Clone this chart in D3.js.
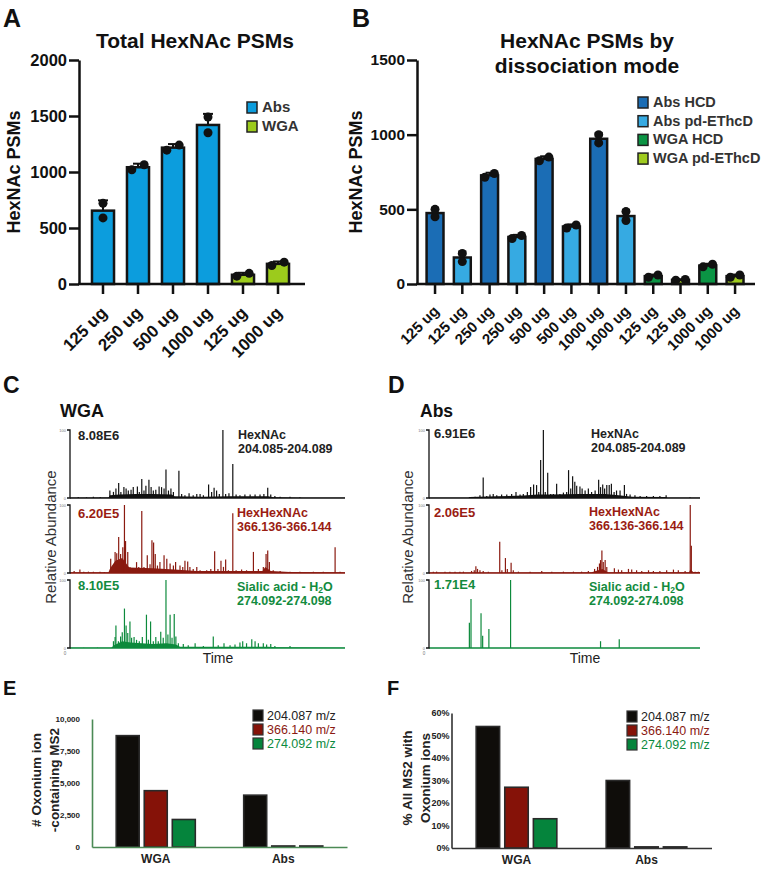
<!DOCTYPE html>
<html>
<head>
<meta charset="utf-8">
<script src="https://cdn.jsdelivr.net/npm/d3@7"></script>
<style>
body { margin: 0; background: #fff; }
text { font-family: "Liberation Sans", Arial, Helvetica, sans-serif; }
</style>
</head>
<body>
<div id="fig"></div>
<script>
const FONT = '"Liberation Sans", Arial, Helvetica, sans-serif';

// ---------- data: panel A ----------
const A_LABELS = ["125 ug", "250 ug", "500 ug", "1000 ug", "125 ug", "1000 ug"];
const A_SERIES = ["Abs", "Abs", "Abs", "Abs", "WGA", "WGA"];
const A_REPS = [[590, 720], [1020, 1065], [1195, 1240], [1350, 1490], [70, 95], [165, 195]];
const A_TICKS = [0, 500, 1000, 1500, 2000];
const A_LEGEND = ["Abs", "WGA"];

// ---------- data: panel B ----------
const B_LABELS = ["125 ug", "125 ug", "250 ug", "250 ug", "500 ug", "500 ug",
  "1000 ug", "1000 ug", "125 ug", "125 ug", "1000 ug", "1000 ug"];
const B_SERIES = ["Abs HCD", "Abs pd-EThcD", "Abs HCD", "Abs pd-EThcD", "Abs HCD", "Abs pd-EThcD",
  "Abs HCD", "Abs pd-EThcD", "WGA HCD", "WGA pd-EThcD", "WGA HCD", "WGA pd-EThcD"];
const B_REPS = [[450, 500], [150, 205], [715, 740], [305, 325], [825, 850], [375, 395],
  [945, 1000], [425, 485], [45, 60], [25, 30], [115, 132], [45, 60]];
const B_TICKS = [0, 500, 1000, 1500];
const B_LEGEND = ["Abs HCD", "Abs pd-EThcD", "WGA HCD", "WGA pd-EThcD"];

// ---------- data: panels C / D (retention time 0-100, relative abundance %) ----------
const C_HEXNAC = [[3, 1.5], [6, 1], [8.5, 2], [11, 1.5], [14.5, 11], [15.8, 9], [16.7, 14], [17.7, 22], [18.5, 9],
  [19.6, 16], [20.4, 14], [21.2, 11], [22.2, 12], [23.0, 16], [24.5, 17], [25.2, 9], [26.1, 28], [26.9, 11],
  [27.6, 18], [28.7, 27], [29.5, 16], [30.3, 11], [31.2, 12], [32.4, 17], [33.3, 16], [34.2, 14], [34.9, 42],
  [35.8, 11], [36.7, 14], [37.6, 9], [39.6, 40], [40.6, 6], [41.8, 4], [43.3, 7], [44.8, 4], [46.1, 6], [47.3, 6],
  [48.5, 4], [50.4, 20], [51.5, 9], [52.4, 15], [53.3, 11], [54.3, 6], [55.6, 100], [56.6, 6], [57.8, 7],
  [59.2, 50], [60.4, 5], [61.8, 4], [63.6, 5], [65.5, 5], [67.3, 5], [69.1, 5], [70.5, 6], [71.9, 15], [73.0, 5],
  [74.5, 3], [76.4, 2], [80.0, 2], [83.6, 1]];
const C_HEXNAC_BG = [[0, 0.5], [14, 0.8], [14.5, 4], [18, 5], [24, 6], [30, 6], [37, 5], [38, 2.5], [48, 2],
  [58, 2.5], [66, 2.5], [72, 2.5], [74, 1], [85, 0.5], [100, 0.3]];

const C_HEXHEX = [[1.5, 3], [3.6, 5], [5, 2], [6.7, 2], [8.5, 2], [10.9, 2], [12.5, 1.5], [14.8, 21], [16.4, 31],
  [17.0, 29], [17.7, 53], [18.4, 28], [19.2, 38], [19.8, 100], [20.2, 47], [21.0, 31], [21.8, 9], [23.0, 6],
  [24.2, 16], [25.0, 9], [26.1, 91], [26.9, 9], [28.1, 26], [29.1, 13], [29.8, 48], [30.4, 45], [31.0, 28],
  [31.8, 11], [32.7, 16], [34.2, 26], [35.2, 21], [36.4, 14], [37.6, 11], [38.4, 16], [40.0, 11], [41.0, 9],
  [41.8, 18], [42.8, 17], [43.6, 9], [44.8, 6], [46.1, 9], [47.3, 4], [49.7, 4], [51.2, 6], [52.6, 32],
  [53.8, 6], [54.9, 18], [55.8, 9], [56.6, 20], [57.6, 4], [59.2, 88], [60.4, 4], [62.4, 5], [64.2, 4],
  [66.7, 31], [68.5, 6], [70.3, 9], [71.3, 28], [71.9, 33], [72.5, 16], [73.9, 4], [76.4, 3], [80.0, 2],
  [83.6, 2], [88.5, 2], [92.1, 2], [96.4, 38], [98.2, 2]];
const C_HEXHEX_BG = [[0, 1], [14, 1.2], [14.6, 7], [16.5, 18], [19, 22], [21.5, 8], [30, 7], [38, 5], [46, 3],
  [58, 3], [70, 3], [71, 9], [73, 3], [80, 1.5], [100, 1]];

const C_SIALIC = [[5, 0.5], [10, 0.5], [15.8, 10], [16.4, 16], [16.7, 33], [17.6, 10], [18.4, 17], [19.0, 23],
  [19.8, 58], [20.4, 33], [21.0, 22], [21.8, 39], [22.4, 15], [23.3, 16], [24.2, 12], [25.2, 10], [26.3, 16],
  [27.8, 49], [28.5, 12], [29.3, 39], [30.3, 10], [31.2, 16], [32.1, 10], [33.0, 24], [33.9, 15], [34.9, 100],
  [35.6, 20], [36.4, 49], [37.1, 15], [37.9, 50], [38.5, 17], [39.4, 7], [41.2, 6], [43.0, 4], [45.5, 7],
  [48.5, 3], [52.1, 17], [53.9, 4], [56.0, 7], [58.2, 4], [60.0, 5], [61.8, 8], [62.8, 10], [64.2, 7],
  [66.1, 13], [67.3, 10], [68.5, 7], [70.3, 7], [71.5, 5], [73.0, 6], [74.5, 3], [80.0, 3]];
const C_SIALIC_BG = [[0, 0.3], [15, 0.5], [16, 4], [19, 10], [22, 8], [30, 6], [35, 7], [38.5, 5], [40, 2],
  [60, 2], [72, 2], [75, 1], [100, 0.3]];

const D_HEXNAC = [[15.1, 1.5], [17.0, 2], [18.8, 4], [20.0, 30], [21.3, 3], [22.5, 5], [23.7, 6], [25.0, 4],
  [26.8, 5], [28.7, 5], [30.5, 6], [32.1, 9], [33.6, 5], [34.8, 6], [36.3, 9], [37.5, 16], [38.6, 20],
  [39.7, 19], [40.5, 9], [41.2, 56], [42.2, 100], [42.9, 9], [43.8, 37], [44.9, 6], [45.9, 6], [47.1, 21],
  [48.3, 6], [49.6, 8], [50.8, 9], [51.5, 41], [52.3, 14], [53.0, 32], [53.8, 24], [54.5, 18], [55.7, 17],
  [56.5, 14], [57.6, 11], [58.8, 14], [60.0, 9], [61.3, 11], [62.6, 27], [63.3, 16], [64.1, 20], [64.8, 14],
  [65.6, 19], [66.5, 19], [67.3, 21], [68.3, 9], [69.2, 11], [70.5, 11], [72.1, 19], [72.9, 6], [74.2, 5],
  [76.0, 4], [77.9, 3], [80.3, 3], [82.8, 3], [85.2, 3], [87.5, 4], [96.3, 1]];
const D_HEXNAC_BG = [[0, 0.2], [14.5, 0.3], [15, 1.5], [25, 2.5], [35, 3.5], [40, 5], [45, 5], [55, 6], [65, 6],
  [70, 4], [75, 2], [87.5, 1.5], [88, 0.3], [100, 0.3]];

const D_HEXHEX = [[1.6, 2], [2.8, 2], [5.9, 2], [7.7, 2], [9.6, 2], [11.4, 2], [12.7, 2], [15.7, 3], [16.7, 4],
  [17.3, 10], [17.9, 6], [18.8, 4], [20.0, 3], [21.9, 2], [26.1, 46], [26.9, 4], [28.2, 22], [28.9, 6],
  [30.3, 15], [31.1, 4], [33.0, 2], [37.3, 2], [41.6, 3], [45.3, 2], [49.6, 2], [53.3, 2], [56.3, 2], [58.8, 3],
  [61.1, 6], [62.2, 9], [62.9, 14], [63.3, 19], [63.8, 33], [64.3, 16], [65.0, 19], [65.6, 9], [68.4, 7],
  [69.9, 5], [71.1, 4], [73.6, 6], [74.8, 5], [76.6, 4], [78.5, 3], [81.0, 4], [82.8, 3], [85.2, 3], [87.7, 4],
  [90.2, 5], [92.0, 4], [94.5, 3], [96.4, 100], [96.8, 40], [98.2, 2], [99.4, 2]];
const D_HEXHEX_BG = [[0, 0.8], [60, 1], [61.5, 3], [64, 6], [66, 1], [96, 1], [96.4, 5], [97.5, 1.5], [100, 1.5]];

const D_SIALIC = [[14.9, 37], [15.5, 72], [19.2, 51], [19.8, 18], [22.1, 28], [30.1, 100], [63.3, 10], [70.2, 13]];
const D_SIALIC_BG = [];

const C_MAX = ["8.08E6", "6.20E5", "8.10E5"];
const D_MAX = ["6.91E6", "2.06E5", "1.71E4"];
const ION_NAMES = [["HexNAc", "204.085-204.089"], ["HexHexNAc", "366.136-366.144"], ["Sialic acid - H2O", "274.092-274.098"]];

// ---------- data: panels E / F ----------
const EF_GROUPS = ["WGA", "Abs"];
const EF_KEYS = ["204.087 m/z", "366.140 m/z", "274.092 m/z"];
const E_204 = [8700, 4050];
const E_366 = [4400, 80];
const E_274 = [2150, 80];
const E_TICKS = [0, 2500, 5000, 7500, 10000];
const F_204 = [54, 30];
const F_366 = [27, 0.5];
const F_274 = [13, 0.5];
const F_TICKS = [0, 10, 20, 30, 40, 50, 60];

// ---------- styles ----------
const A_COLORS = { "Abs": "#0c9ddd", "WGA": "#9ccb1c" };
const B_COLORS = { "Abs HCD": "#1b6db5", "Abs pd-EThcD": "#36aae2", "WGA HCD": "#0b9444", "WGA pd-EThcD": "#9fcb1f" };
const TRACE_COLORS = ["#111111", "#8a1a10", "#0d8a3c"];
const LABEL_COLORS = ["#222222", "#9a1c12", "#138b3e"];
const EF_FILL = { "204.087 m/z": "#0f0d0a", "366.140 m/z": "#851208", "274.092 m/z": "#05843c" };
const EF_TEXT = { "204.087 m/z": "#222222", "366.140 m/z": "#8b1a12", "274.092 m/z": "#0b8a3e" };

const svg = d3.select("#fig").append("svg")
  .attr("width", 762)
  .attr("height", 870);

// panel letters
[["A", 3, 27, 25], ["B", 352, 27, 25], ["C", 3, 393, 23], ["D", 388, 393, 23], ["E", 3, 695, 20], ["F", 387, 695, 20]]
  .forEach(([t, x, y, s]) => {
    svg.append("text").attr("x", x).attr("y", y)
      .style("font", `bold ${s}px ${FONT}`).attr("fill", "#111").text(t);
  });

// ---------- replicate bar chart (A, B) ----------
const replicateChart = (c) => {
  const g = svg.append("g");
  const x = d3.scaleBand().domain(d3.range(c.labels.length))
    .range(c.xRange).paddingInner(c.pad).paddingOuter(c.pad / 2);
  const y = d3.scaleLinear().domain([0, d3.max(c.ticks)]).range(c.yRange);
  const bw = x.bandwidth();

  const rows = c.reps.map((r, i) => ({
    i: i, s: c.series[i], reps: r.slice().sort(d3.ascending),
    mean: d3.mean(r), sd: d3.deviation(r)
  }));

  g.selectAll(".bar").data(rows).join("rect")
    .attr("x", (d) => x(d.i))
    .attr("y", (d) => y(d.mean))
    .attr("width", bw)
    .attr("height", (d) => y(0) - y(d.mean))
    .attr("fill", (d) => c.colors[d.s])
    .attr("stroke", "#141414")
    .attr("stroke-width", 2.5);

  // error bars (upper)
  rows.forEach((d) => {
    const cx = x(d.i) + bw / 2;
    g.append("line").attr("x1", cx).attr("x2", cx)
      .attr("y1", y(d.mean)).attr("y2", y(d.mean + d.sd))
      .attr("stroke", "#111").attr("stroke-width", 2);
    g.append("line").attr("x1", cx - c.cap).attr("x2", cx + c.cap)
      .attr("y1", y(d.mean + d.sd)).attr("y2", y(d.mean + d.sd))
      .attr("stroke", "#111").attr("stroke-width", 2);
  });

  // replicate points
  rows.forEach((d) => {
    const cx = x(d.i) + bw / 2;
    const spread = Math.abs(y(d.reps[0]) - y(d.reps[1])) < 7;
    d.reps.forEach((v, k) => {
      const off = spread ? (k === 0 ? -1 : 1) * bw * 0.28 : 0;
      g.append("circle").attr("cx", cx + off).attr("cy", y(v))
        .attr("r", c.r).attr("fill", "#111");
    });
  });

  // y axis
  const yAxis = g.append("g")
    .attr("transform", `translate(${c.axisX[0]},0)`)
    .call(d3.axisLeft(y).tickValues(c.ticks).tickFormat(d3.format("d"))
      .tickSize(c.tick).tickSizeOuter(0).tickPadding(2));
  yAxis.selectAll("path, line").attr("stroke", "#111").attr("stroke-width", 2.5);
  yAxis.selectAll("text").style("font", `bold ${c.tickFont}px ${FONT}`).attr("fill", "#111");

  // x axis
  const xAxis = g.append("g")
    .attr("transform", `translate(0,${y(0)})`)
    .call(d3.axisBottom(x).tickSize(c.tick).tickSizeOuter(0).tickFormat((i) => c.labels[i]));
  xAxis.select(".domain").attr("d", `M${c.axisX[0] - 1},0H${c.axisX[1]}`);
  xAxis.selectAll("path, line").attr("stroke", "#111").attr("stroke-width", 2.5);
  xAxis.selectAll("text")
    .attr("y", 0).attr("dy", 0)
    .attr("text-anchor", "end")
    .attr("transform", `translate(${c.lab[0]},${c.lab[1]}) rotate(-45)`)
    .style("font", `bold ${c.labelFont}px ${FONT}`).attr("fill", "#111");

  // y title
  svg.append("text")
    .attr("transform", `translate(${c.yTitle[0]},${c.yTitle[1]}) rotate(-90)`)
    .attr("text-anchor", "middle")
    .style("font", `bold 18px ${FONT}`).attr("fill", "#111")
    .text("HexNAc PSMs");

  // title
  c.title.forEach((t, k) => {
    svg.append("text").attr("x", c.titleX).attr("y", c.titleY + k * 25)
      .attr("text-anchor", "middle")
      .style("font", `bold 21px ${FONT}`).attr("fill", "#111").text(t);
  });

  // legend
  c.legend.forEach((s, k) => {
    const ly = c.legendXY[1] + k * c.legendStep;
    svg.append("rect").attr("x", c.legendXY[0]).attr("y", ly)
      .attr("width", 10).attr("height", 11)
      .attr("fill", c.colors[s]).attr("stroke", "#222").attr("stroke-width", 1.5);
    svg.append("text").attr("x", c.legendXY[0] + 15).attr("y", ly + 10)
      .style("font", `bold ${c.legendFont}px ${FONT}`).attr("fill", "#333").text(s);
  });
};

replicateChart({
  labels: A_LABELS, series: A_SERIES, reps: A_REPS, ticks: A_TICKS, colors: A_COLORS, legend: A_LEGEND,
  xRange: [85.5, 295.5], pad: 0.37, yRange: [284, 60], axisX: [79, 305],
  tick: 10, cap: 5, r: 4.5, tickFont: 16.5, labelFont: 17, lab: [5, 30],
  yTitle: [20, 172], title: ["Total HexNAc PSMs"], titleX: 195, titleY: 48,
  legendXY: [247, 102], legendStep: 19, legendFont: 15
});

replicateChart({
  labels: B_LABELS, series: B_SERIES, reps: B_REPS, ticks: B_TICKS, colors: B_COLORS, legend: B_LEGEND,
  xRange: [421.4, 748.7], pad: 0.38, yRange: [284, 60], axisX: [417, 755],
  tick: 10, cap: 4, r: 4.5, tickFont: 15.5, labelFont: 15, lab: [5, 28],
  yTitle: [362, 172], title: ["HexNAc PSMs by", "dissociation mode"], titleX: 587, titleY: 48,
  legendXY: [638, 97], legendStep: 18.7, legendFont: 14.5
});

// ---------- chromatograms (C, D) ----------
const drawTrace = (x0, x1, top, peaks, bg, color) => {
  const g = svg.append("g");
  const x = d3.scaleLinear().domain([0, 100]).range([x0, x1]);
  const y = d3.scaleLinear().domain([0, 100]).range([top + 68, top]);
  if (bg.length) {
    g.append("path").datum(bg)
      .attr("d", d3.area().x((d) => x(d[0])).y0(y(0)).y1((d) => y(d[1])))
      .attr("fill", color);
  }
  g.selectAll(".pk").data(peaks).join("line")
    .attr("x1", (d) => x(d[0])).attr("x2", (d) => x(d[0]))
    .attr("y1", y(0)).attr("y2", (d) => y(d[1]))
    .attr("stroke", color).attr("stroke-width", 1.2);
  g.append("line").attr("x1", x0).attr("x2", x1).attr("y1", y(0)).attr("y2", y(0))
    .attr("stroke", color).attr("stroke-width", 1.5);
  g.append("path").attr("d", `M${x0 - 3},${y(100)}H${x0}V${y(0)}H${x0 - 3}`)
    .attr("fill", "none").attr("stroke", "#111").attr("stroke-width", 1.3);
  g.append("text").attr("x", x0 - 4).attr("y", y(100) + 1.5).attr("text-anchor", "end")
    .style("font", `4px ${FONT}`).attr("fill", "#777").text("100");
  g.append("text").attr("x", x0 - 4).attr("y", y(0) + 1.5).attr("text-anchor", "end")
    .style("font", `4px ${FONT}`).attr("fill", "#777").text("0");
};

const chromPanel = (p) => {
  const tops = [430, 505, 580];
  p.traces.forEach((t, k) => drawTrace(p.x0, p.x1, tops[k], t[0], t[1], TRACE_COLORS[k]));

  svg.append("text").attr("x", p.titleX).attr("y", 417)
    .style("font", `bold ${p.titleSize}px ${FONT}`).attr("fill", "#111").text(p.title);

  p.maxes.forEach((m, k) => {
    svg.append("text").attr("x", p.maxX).attr("y", p.maxY[k])
      .style("font", `bold 13px ${FONT}`).attr("fill", LABEL_COLORS[k]).text(m);
  });

  ION_NAMES.forEach((n, k) => {
    const t1 = svg.append("text").attr("x", p.ionX[k]).attr("y", p.ionY[k])
      .style("font", `bold 12.5px ${FONT}`).attr("fill", LABEL_COLORS[k]);
    if (n[0].endsWith("H2O")) {
      t1.append("tspan").text(n[0].slice(0, -2));
      t1.append("tspan").attr("dy", 2).style("font-size", "8.5px").text("2");
      t1.append("tspan").attr("dy", -2).text("O");
    } else {
      t1.text(n[0]);
    }
    svg.append("text").attr("x", p.ionX[k]).attr("y", p.ionY[k] + 14)
      .style("font", `bold 12.5px ${FONT}`).attr("fill", LABEL_COLORS[k]).text(n[1]);
  });

  svg.append("text")
    .attr("transform", `translate(${p.yTitleX},537) rotate(-90)`)
    .attr("text-anchor", "middle")
    .style("font", `15px ${FONT}`).attr("fill", "#333").text("Relative Abundance");
  svg.append("text").attr("x", p.timeX).attr("y", 663).attr("text-anchor", "middle")
    .style("font", `14px ${FONT}`).attr("fill", "#222").text("Time");
  svg.append("text").attr("x", p.x0 - 5).attr("y", 655).attr("text-anchor", "middle")
    .style("font", `4.5px ${FONT}`).attr("fill", "#777").text("0");
};

chromPanel({
  x0: 70, x1: 345, title: "WGA", titleX: 60, titleSize: 18,
  traces: [[C_HEXNAC, C_HEXNAC_BG], [C_HEXHEX, C_HEXHEX_BG], [C_SIALIC, C_SIALIC_BG]],
  maxes: C_MAX, maxX: 78, maxY: [440, 518, 590],
  ionX: [238, 237, 237], ionY: [439, 517, 591],
  yTitleX: 56, timeX: 218
});

chromPanel({
  x0: 429, x1: 700, title: "Abs", titleX: 420, titleSize: 17.5,
  traces: [[D_HEXNAC, D_HEXNAC_BG], [D_HEXHEX, D_HEXHEX_BG], [D_SIALIC, D_SIALIC_BG]],
  maxes: D_MAX, maxX: 434, maxY: [438, 517, 589],
  ionX: [591, 589, 589], ionY: [438, 516, 591],
  yTitleX: 413, timeX: 585
});

// ---------- grouped bars (E, F) ----------
const groupedChart = (c) => {
  const g = svg.append("g");
  const x0 = d3.scaleBand().domain(EF_GROUPS).range(c.xRange);
  const gw = x0.bandwidth();
  const x1 = d3.scaleBand().domain(EF_KEYS).range([gw * 0.17, gw * 0.83])
    .paddingInner(0.18).paddingOuter(0.09);
  const y = d3.scaleLinear().domain([0, d3.max(c.ticks)]).range(c.yRange);

  EF_GROUPS.forEach((grp, gi) => {
    EF_KEYS.forEach((k, ki) => {
      const v = c.values[ki][gi];
      g.append("rect")
        .attr("x", x0(grp) + x1(k))
        .attr("y", y(v))
        .attr("width", x1.bandwidth())
        .attr("height", y(0) - y(v))
        .attr("fill", EF_FILL[k])
        .attr("stroke", "#2a2a2a")
        .attr("stroke-width", 1.6);
    });
  });

  const yAxis = g.append("g").attr("transform", `translate(${c.xRange[0]},0)`)
    .call(d3.axisLeft(y).tickValues(c.ticks).tickSize(0).tickPadding(c.tickPad).tickFormat(c.fmt));
  yAxis.select(".domain").attr("stroke", c.axisColor).attr("stroke-width", 1.6);
  yAxis.selectAll("text").style("font", `bold ${c.tickFont}px ${FONT}`).attr("fill", "#222");

  const xAxis = g.append("g").attr("transform", `translate(0,${y(0)})`)
    .call(d3.axisBottom(x0).tickSize(0).tickSizeOuter(0).tickPadding(7));
  xAxis.select(".domain").attr("stroke", c.axisColor).attr("stroke-width", 1.6);
  xAxis.selectAll("text").style("font", `bold 12px ${FONT}`).attr("fill", "#222");

  c.yTitle.forEach((t, k) => {
    svg.append("text")
      .attr("transform", `translate(${c.yTitleX[k]},${c.yTitleY}) rotate(-90)`)
      .attr("text-anchor", "middle")
      .style("font", `bold 13.5px ${FONT}`).attr("fill", "#222").text(t);
  });

  EF_KEYS.forEach((k, ki) => {
    const ly = c.legendXY[1] + ki * 14;
    svg.append("rect").attr("x", c.legendXY[0]).attr("y", ly)
      .attr("width", 10).attr("height", 11)
      .attr("fill", EF_FILL[k]).attr("stroke", "#333").attr("stroke-width", 1.2);
    svg.append("text").attr("x", c.legendXY[0] + 14).attr("y", ly + 10)
      .style("font", `12.5px ${FONT}`).attr("fill", EF_TEXT[k]).text(k);
  });
};

groupedChart({
  values: [E_204, E_366, E_274], ticks: E_TICKS, fmt: d3.format(","),
  xRange: [92, 347], yRange: [847, 719], tickPad: 12, tickFont: 8,
  axisColor: "#4b8a55", yTitle: ["# Oxonium ion", "-containing MS2"], yTitleX: [41, 59], yTitleY: 780,
  legendXY: [253, 710]
});

groupedChart({
  values: [F_204, F_366, F_274], ticks: F_TICKS, fmt: (d) => d + "%",
  xRange: [451.5, 711.5], yRange: [848, 713], tickPad: 2, tickFont: 9,
  axisColor: "#333", yTitle: ["% All MS2 with", "Oxonium ions"], yTitleX: [412, 430], yTitleY: 778,
  legendXY: [627, 711]
});
</script>
</body>
</html>
